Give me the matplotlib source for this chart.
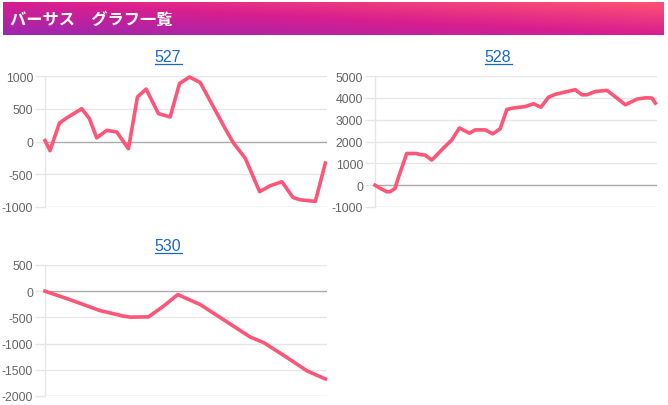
import numpy as np
import matplotlib.pyplot as plt
from matplotlib.colors import LinearSegmentedColormap
from matplotlib.lines import Line2D

plt.rcParams['font.family'] = ['Liberation Sans', 'DejaVu Sans']

# data (x = game position, y = difference)
x527 = [0, 1.5, 4.3, 6.5, 11, 13.3, 15.5, 18.5, 21.5, 25, 27.7, 30.3, 34, 37.5,
        40.3, 43.3, 46.5, 50.5, 54, 56.5, 60, 64.3, 67.5, 71, 74.3, 76.5, 81, 84]
y527 = [15, -140, 280, 360, 500, 350, 55, 170, 145, -110, 680, 800, 425, 375,
        885, 985, 900, 525, 195, -25, -255, -765, -675, -615, -855, -890, -915, -330]

x528 = [0, 1.5, 3.5, 4.5, 6, 7, 9.5, 12.5, 13.5, 15, 17, 18.5, 20.5, 23, 25.3,
        28.3, 30, 33, 35.3, 37.5, 39.5, 41.3, 43.5, 45, 47.5, 49.7, 52, 54, 56.5,
        60, 62, 63.5, 66, 69.5, 72.5, 75, 78.5, 81, 83, 84]
y528 = [0, -140, -300, -300, -150, 350, 1450, 1450, 1400, 1380, 1150, 1380, 1700,
        2070, 2620, 2380, 2530, 2530, 2350, 2580, 3470, 3530, 3570, 3600, 3730,
        3570, 4030, 4160, 4250, 4370, 4140, 4140, 4290, 4340, 3990, 3680, 3940,
        4000, 3990, 3760]

x530 = [0, 6.5, 16.5, 23.5, 25.5, 31, 35.5, 39.8, 46.5, 54.5, 61.5, 65.5, 72.5, 78.5, 84]
y530 = [0, -140, -370, -475, -495, -490, -285, -65, -255, -585, -875, -980,
        -1265, -1520, -1675]

titles = ['527', '528', '530']
ylims = [(-1000, 1000), (-1000, 5000), (-2000, 500)]
ysteps = [500, 1000, 500]

W, H = 668, 406
fig = plt.figure(figsize=(W / 100, H / 100), dpi=100)

# header bar with diagonal gradient
hax = fig.add_axes([3 / W, 1 - 36 / H, 661 / W, 33 / H])
cmap = LinearSegmentedColormap.from_list('hdr', ['#9c27b0', '#d81e8f', '#ff5272'])
gx, gy = np.meshgrid(np.linspace(0, 1, 300), np.linspace(0, 1, 30))
hax.imshow(0.5 * gx + 0.5 * gy, cmap=cmap, aspect='auto', origin='lower',
           extent=[0, 1, 0, 1])
hax.set_axis_off()
hax.text(0.011, 0.5, 'バーサス　グラフ一覧', color='white', fontsize=11.7,
         fontweight='bold', va='center', ha='left',
         family=['Noto Sans CJK JP', 'DejaVu Sans'])

panels = [
    (x527, y527, 45, 77, 168, 58),
    (x528, y528, 375, 77, 498, 58),
    (x530, y530, 45, 266, 168, 247),
]

for i, (xs, ys, left, top, tcx, tcy) in enumerate(panels):
    ax = fig.add_axes([left / W, 1 - (top + 131) / H, 282 / W, 131 / H])
    lo, hi = ylims[i]
    ax.set_xlim(0, 84.5)
    ax.set_ylim(lo, hi)
    ticks = np.arange(lo, hi + 1, ysteps[i])
    ax.set_yticks(ticks)
    ax.set_yticklabels([str(int(t)) for t in ticks])
    ax.set_xticks([])
    for t in ticks:
        c = '#aaaaaa' if t == 0 else ('#cccccc' if t == lo else '#e6e6e6')
        ax.axhline(t, color=c, lw=1, zorder=1)
    ax.plot(xs, ys, color='#ff5577', lw=2.6, solid_joinstyle='round', zorder=3,
            clip_on=False)
    for s in ['top', 'right', 'bottom']:
        ax.spines[s].set_visible(False)
    ax.spines['left'].set_color('#e6e6e6')
    ax.spines['left'].set_linewidth(1)
    ax.tick_params(axis='y', length=7.5, width=1, color='#e6e6e6',
                   labelsize=8.8, labelcolor='#666666', pad=1)
    # title link
    fig.text(tcx / W, 1 - tcy / H, titles[i], color='#1a66cc', fontsize=11.5,
             ha='center', va='center')
    fig.add_artist(Line2D([(tcx - 13.5) / W, (tcx + 13.5) / W],
                          [1 - (tcy + 7) / H, 1 - (tcy + 7) / H],
                          color='#1a66cc', lw=0.9))

fig.savefig('out.png', dpi=100)
